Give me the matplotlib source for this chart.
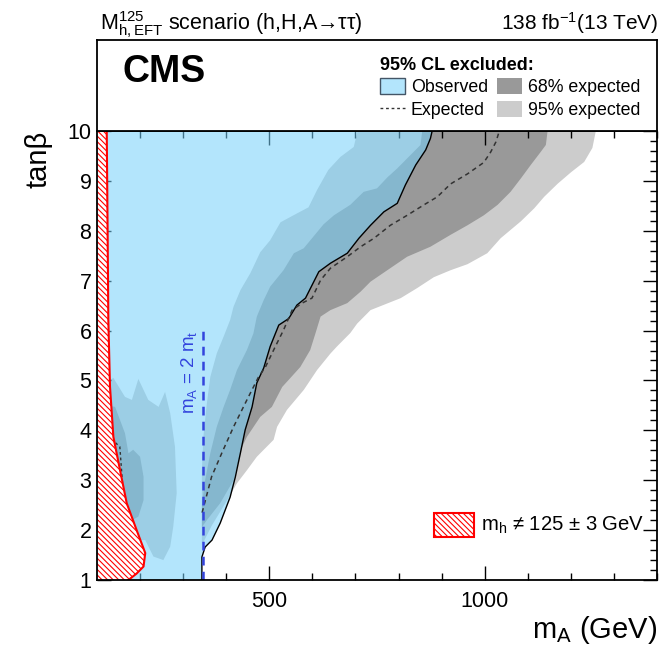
import numpy as np
import matplotlib.pyplot as plt
from matplotlib.patches import Patch, Rectangle
from matplotlib.lines import Line2D

plt.rcParams['font.family'] = ['Liberation Sans', 'DejaVu Sans']
plt.rcParams['mathtext.fontset'] = 'custom'
plt.rcParams['mathtext.rm'] = 'Liberation Sans'
plt.rcParams['mathtext.it'] = 'Liberation Sans:italic'
plt.rcParams['mathtext.bf'] = 'Liberation Sans:bold'
plt.rcParams['hatch.color'] = 'red'
plt.rcParams['hatch.linewidth'] = 0.8

# observed exclusion contour (mA [GeV], tan beta)
obs_mA = [343.5, 343.5, 351, 367, 386, 409, 421, 433, 444, 460, 471, 487, 502, 522,
          545, 564, 584, 615, 642, 681, 708, 735, 766, 797, 816, 840, 863, 874, 878]
obs_tanb = [1.0, 1.46, 1.66, 1.80, 2.14, 2.66, 3.06, 3.55, 4.01, 4.47, 4.95, 5.25, 5.68, 6.11,
            6.24, 6.51, 6.65, 7.18, 7.35, 7.55, 7.85, 8.11, 8.38, 8.55, 8.92, 9.32, 9.62, 9.85, 10.0]

# median expected contour
exp_mA = [344, 366, 390, 417, 448, 475, 491, 514, 533, 553, 576, 599, 619, 642, 681, 712,
          743, 781, 820, 859, 890, 921, 960, 998, 1014, 1026, 1034]
exp_tanb = [2.35, 3.07, 3.55, 4.07, 4.61, 5.07, 5.27, 5.68, 6.01, 6.41, 6.55, 6.65, 7.01, 7.25,
            7.48, 7.68, 7.85, 8.11, 8.31, 8.52, 8.68, 8.94, 9.14, 9.37, 9.58, 9.78, 10.0]
# small expected contour at low mA
exp2_mA = [143, 153, 157, 161, 165]
exp2_tanb = [3.75, 3.67, 3.20, 2.74, 2.60]

# 95% band: inner edge (top -> bottom) and outer edge (bottom -> top)
b95_in_mA = [705, 696, 665, 637, 611, 591, 556, 526, 502, 479, 456, 433, 417, 409, 394,
             378, 363, 355, 347, 343.5]
b95_in_tanb = [10.0, 9.68, 9.48, 9.22, 8.82, 8.47, 8.31, 8.17, 7.81, 7.57, 7.15, 6.81, 6.48,
               6.21, 5.88, 5.54, 5.07, 4.54, 3.87, 3.20]
b95_out_mA = [343.5, 367, 398, 425, 448, 471, 487, 510, 518, 541, 580, 611, 642, 657, 688,
              704, 735, 805, 843, 882, 921, 960, 1006, 1037, 1084, 1115, 1138, 1169, 1200,
              1231, 1250, 1258]
b95_out_tanb = [1.70, 2.10, 2.54, 2.94, 3.20, 3.47, 3.61, 3.81, 4.07, 4.41, 4.81, 5.21, 5.54,
                5.68, 5.95, 6.14, 6.41, 6.65, 6.85, 7.07, 7.21, 7.33, 7.55, 7.85, 8.19, 8.45,
                8.68, 8.94, 9.17, 9.38, 9.66, 10.0]

# 68% band: inner edge (top -> bottom) and outer edge (bottom -> top)
b68_in_mA = [855, 851, 828, 797, 774, 750, 719, 688, 650, 626, 603, 580, 557, 533, 502, 487,
             471, 463, 448, 425, 409, 394, 378, 363, 351, 343.5]
b68_in_tanb = [10.0, 9.72, 9.52, 9.25, 9.07, 8.85, 8.78, 8.52, 8.31, 8.13, 7.89, 7.65, 7.55,
               7.21, 6.88, 6.61, 6.28, 5.94, 5.61, 5.21, 4.81, 4.47, 4.07, 3.54, 3.00, 2.50]
b68_out_mA = [343.5, 355, 386, 417, 437, 448, 479, 506, 530, 549, 572, 595, 607, 619, 642,
              681, 712, 735, 774, 820, 874, 921, 960, 998, 1030, 1060, 1084, 1107, 1130,
              1142, 1146]
b68_out_tanb = [2.06, 2.20, 2.54, 3.00, 3.67, 3.87, 4.27, 4.47, 4.87, 5.05, 5.27, 5.61, 5.94,
                6.28, 6.41, 6.55, 6.78, 6.98, 7.21, 7.48, 7.68, 7.92, 8.11, 8.31, 8.52, 8.78,
                9.05, 9.32, 9.58, 9.72, 10.0]

# expected band islands at low mA
isl95_mA = [110, 130, 138, 165, 181, 196, 219, 243, 258, 270, 281, 285, 277, 270, 254, 231,
            212, 110]
isl95_tanb = [5.0, 5.01, 5.05, 4.67, 4.61, 5.03, 4.61, 4.47, 4.77, 4.34, 3.67, 2.74, 2.07,
              1.67, 1.40, 1.47, 1.80, 1.80]
isl68_mA = [110, 130, 142, 165, 173, 184, 200, 208, 208, 196, 181, 165, 110]
isl68_tanb = [4.49, 4.49, 4.47, 3.94, 3.54, 3.61, 3.47, 3.07, 2.60, 2.27, 2.20, 2.16, 2.16]

# region where mh != 125 +- 3 GeV
mh_mA = [122.6, 124.4, 126.3, 130.2, 138, 153.5, 169, 192, 212, 208, 192, 173]
mh_tanb = [10.0, 8.21, 6.21, 4.87, 3.87, 3.20, 2.54, 2.00, 1.54, 1.27, 1.13, 1.0]

m_top2 = 345.0

fig = plt.figure(figsize=(6.64, 6.54), dpi=100)
ax = fig.add_axes([97 / 664, 1 - 580 / 654, 560 / 664, 449 / 654])
box = fig.add_axes([97 / 664, 1 - 131 / 654, 560 / 664, 91 / 654])

light_gray = '#cccccc'
dark_gray = '#999999'
blue = (117 / 255, 208 / 255, 250 / 255)
hatch = '\\' * 6

# expected bands
ax.fill(b95_in_mA + b95_out_mA, b95_in_tanb + b95_out_tanb, color=light_gray, lw=0, zorder=1)
ax.fill(b68_in_mA + b68_out_mA, b68_in_tanb + b68_out_tanb, color=dark_gray, lw=0, zorder=1.1)
ax.fill(isl95_mA, isl95_tanb, color=light_gray, lw=0, zorder=1)
ax.fill(isl68_mA, isl68_tanb, color=dark_gray, lw=0, zorder=1.1)

# observed region
ox = [100] + obs_mA + [100]
oy = [1.0] + obs_tanb + [10.0]
ax.fill(ox, oy, color=blue, alpha=0.55, lw=0, zorder=2)
ax.plot(obs_mA, obs_tanb, color='black', lw=1.0, zorder=3)

ax.plot(exp_mA, exp_tanb, color='#333333', lw=1.1, ls=(0, (3, 2.5)), zorder=3)
ax.plot(exp2_mA, exp2_tanb, color='#333333', lw=1.0, ls=(0, (2, 2)), zorder=3)

# mh hatch
hx = [100] + mh_mA + [100]
hy = [10.0] + mh_tanb + [1.0]
ax.fill(hx, hy, facecolor='white', edgecolor='red', hatch=hatch, lw=0, zorder=4)
ax.plot(mh_mA, mh_tanb, color='red', lw=1.5, zorder=4.5)

# mA = 2 mt
ax.plot([m_top2, m_top2], [1.0, 6.0], color='#3344dd', lw=1.8, ls=(0, (3.5, 2.5)), zorder=5)
ax.text(m_top2 - 32, 6.0, r'm$_\mathrm{A}$ = 2 m$_\mathrm{t}$', rotation=90, color='#3344dd',
        fontsize=13.5, ha='center', va='top', zorder=6)

ax.set_xlim(100, 1400)
ax.set_ylim(1, 10)
ax.set_xticks([500, 1000])
ax.set_xticks(np.arange(100, 1401, 100), minor=True)
ax.set_yticks(np.arange(1, 11, 1))
ax.set_yticks(np.arange(1, 10.01, 0.2), minor=True)
ax.tick_params(which='both', direction='in', top=True, right=True, labelsize=15.5, width=1)
ax.tick_params(which='major', length=10)
ax.tick_params(which='minor', length=5)
ax.tick_params(axis='x', pad=8)
ax.tick_params(axis='y', pad=4)
for s in ax.spines.values():
    s.set_linewidth(1.3)
    s.set_zorder(10)

ax.set_xlabel(r'm$_\mathrm{A}$ (GeV)', fontsize=21, loc='right', labelpad=1)
ax.set_ylabel('tanβ', fontsize=21, loc='top', labelpad=11)

# mh legend
ax.add_patch(Rectangle((0.602, 0.0958), 0.0714, 0.0535, transform=ax.transAxes,
                       facecolor='white', edgecolor='red', hatch=hatch, lw=1.5, zorder=7))
ax.text(0.686, 0.1225, 'm$_\\mathrm{h}$ \u2260 125 \u00b1 3 GeV', transform=ax.transAxes,
        fontsize=14.6, va='center', ha='left', zorder=7)

# top box
box.set_xticks([])
box.set_yticks([])
for s in box.spines.values():
    s.set_linewidth(1.3)

handles = [Patch(facecolor='#b3e5fc', edgecolor='#445566', lw=1),
           Line2D([], [], color='#333333', lw=1, ls=(0, (2, 2))),
           Patch(facecolor=dark_gray, lw=0),
           Patch(facecolor=light_gray, lw=0)]
labels = ['Observed', 'Expected', '68% expected', '95% expected']
leg = box.legend(handles, labels, ncol=2, title='95% CL excluded:', alignment='left',
                 title_fontproperties={'weight': 'bold', 'size': 13}, fontsize=12.8,
                 frameon=False, loc='upper left', bbox_to_anchor=(371 / 664, 1 - 48 / 654),
                 bbox_transform=fig.transFigure, borderpad=0, handlelength=1.4,
                 handleheight=1.0, handletextpad=0.35, columnspacing=0.5, labelspacing=0.25)

fig.text(122 / 664, 1 - 82 / 654, 'CMS', fontsize=27, weight='bold', va='baseline')
fig.text(100 / 664, 1 - 30 / 654,
         'M$^{125}_{\\mathrm{h,EFT}}$ scenario (h,H,A\u2192\u03c4\u03c4)',
         fontsize=15.5, va='baseline', ha='left')
fig.text(658 / 664, 1 - 30 / 654, r'138 fb$^{-1}$(13 TeV)', fontsize=15,
         va='baseline', ha='right')

fig.savefig('out.png', dpi=100)
